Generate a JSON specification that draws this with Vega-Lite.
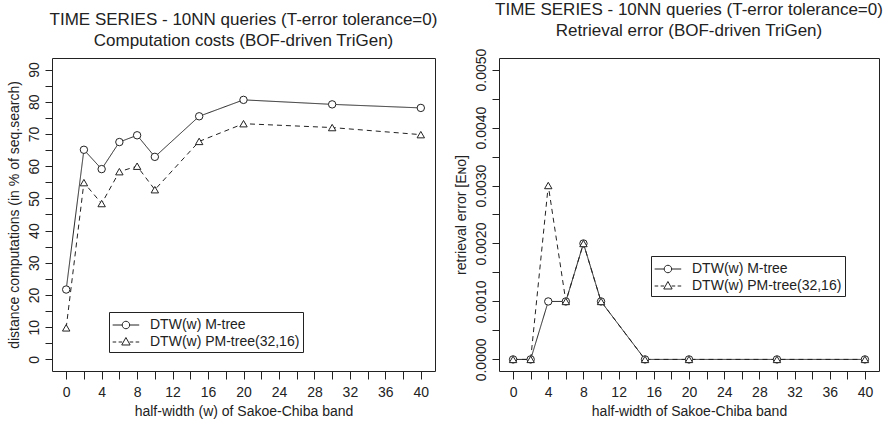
{
  "$schema": "https://vega.github.io/schema/vega-lite/v6.json",
  "background": "white",
  "padding": {"left": 6, "top": 0, "right": 2, "bottom": 2},
  "bounds": "flush",
  "spacing": 64,
  "datasets": {
    "costs": [
      {"w": 0, "series": "DTW(w) M-tree", "value": 21.7},
      {"w": 2, "series": "DTW(w) M-tree", "value": 65.1},
      {"w": 4, "series": "DTW(w) M-tree", "value": 59.1},
      {"w": 6, "series": "DTW(w) M-tree", "value": 67.5},
      {"w": 8, "series": "DTW(w) M-tree", "value": 69.6},
      {"w": 10, "series": "DTW(w) M-tree", "value": 62.9},
      {"w": 15, "series": "DTW(w) M-tree", "value": 75.5},
      {"w": 20, "series": "DTW(w) M-tree", "value": 80.6},
      {"w": 30, "series": "DTW(w) M-tree", "value": 79.2},
      {"w": 40, "series": "DTW(w) M-tree", "value": 78.1},
      {"w": 0, "series": "DTW(w) PM-tree(32,16)", "value": 9.8},
      {"w": 2, "series": "DTW(w) PM-tree(32,16)", "value": 54.9},
      {"w": 4, "series": "DTW(w) PM-tree(32,16)", "value": 48.4},
      {"w": 6, "series": "DTW(w) PM-tree(32,16)", "value": 58.3},
      {"w": 8, "series": "DTW(w) PM-tree(32,16)", "value": 60.0},
      {"w": 10, "series": "DTW(w) PM-tree(32,16)", "value": 52.7},
      {"w": 15, "series": "DTW(w) PM-tree(32,16)", "value": 67.7},
      {"w": 20, "series": "DTW(w) PM-tree(32,16)", "value": 73.2},
      {"w": 30, "series": "DTW(w) PM-tree(32,16)", "value": 72.0},
      {"w": 40, "series": "DTW(w) PM-tree(32,16)", "value": 69.8}
    ],
    "errors": [
      {"w": 0, "series": "DTW(w) M-tree", "value": 0},
      {"w": 2, "series": "DTW(w) M-tree", "value": 0},
      {"w": 4, "series": "DTW(w) M-tree", "value": 0.001},
      {"w": 6, "series": "DTW(w) M-tree", "value": 0.001},
      {"w": 8, "series": "DTW(w) M-tree", "value": 0.002},
      {"w": 10, "series": "DTW(w) M-tree", "value": 0.001},
      {"w": 15, "series": "DTW(w) M-tree", "value": 0},
      {"w": 20, "series": "DTW(w) M-tree", "value": 0},
      {"w": 30, "series": "DTW(w) M-tree", "value": 0},
      {"w": 40, "series": "DTW(w) M-tree", "value": 0},
      {"w": 0, "series": "DTW(w) PM-tree(32,16)", "value": 0},
      {"w": 2, "series": "DTW(w) PM-tree(32,16)", "value": 0},
      {"w": 4, "series": "DTW(w) PM-tree(32,16)", "value": 0.003},
      {"w": 6, "series": "DTW(w) PM-tree(32,16)", "value": 0.001},
      {"w": 8, "series": "DTW(w) PM-tree(32,16)", "value": 0.002},
      {"w": 10, "series": "DTW(w) PM-tree(32,16)", "value": 0.001},
      {"w": 15, "series": "DTW(w) PM-tree(32,16)", "value": 0},
      {"w": 20, "series": "DTW(w) PM-tree(32,16)", "value": 0},
      {"w": 30, "series": "DTW(w) PM-tree(32,16)", "value": 0},
      {"w": 40, "series": "DTW(w) PM-tree(32,16)", "value": 0}
    ]
  },
  "config": {
    "font": "Liberation Sans",
    "view": {"stroke": "#222", "strokeWidth": 1},
    "axis": {
      "grid": false, "domain": false, "tickColor": "#222", "tickSize": 7, "tickWidth": 1,
      "labelFont": "Liberation Sans", "labelFontSize": 14, "labelColor": "#222",
      "titleFont": "Liberation Sans", "titleFontSize": 14, "titleFontWeight": "normal", "titleColor": "#222",
      "labelOverlap": false, "labelFlush": false, "labelPadding": 4, "titlePadding": 4
    },
    "axisX": {"tickSize": 8, "labelPadding": 6, "titlePadding": 5},
    "axisY": {"labelAngle": -90, "labelAlign": "center", "labelBaseline": "bottom", "titlePadding": 6},
    "title": {"font": "Liberation Sans", "fontSize": 17, "fontWeight": "normal", "color": "#222", "anchor": "middle", "lineHeight": 21, "offset": 8},
    "legend": {
      "strokeColor": "#222", "fillColor": "white", "padding": 3, "cornerRadius": 0,
      "labelFont": "Liberation Sans", "labelFontSize": 14, "labelColor": "#222", "labelOffset": 18,
      "symbolStrokeColor": "#222", "symbolFillColor": "transparent", "symbolStrokeWidth": 1,
      "symbolOpacity": 1, "symbolSize": 350, "rowPadding": 0
    }
  },
  "hconcat": [
    {
      "width": 383, "height": 313,
      "title": {"text": ["TIME SERIES - 10NN queries (T-error tolerance=0)", "Computation costs (BOF-driven TriGen)"]},
      "data": {"name": "costs"},
      "encoding": {
        "x": {"field": "w", "type": "quantitative",
          "scale": {"domain": [-1.6, 41.6], "nice": false, "zero": false},
          "axis": {"values": [0,2,4,6,8,10,12,14,16,18,20,22,24,26,28,30,32,34,36,38,40],
            "labelExpr": "datum.value % 4 === 0 ? datum.label : ''",
            "title": "half-width (w) of Sakoe-Chiba band"}},
        "y": {"field": "value", "type": "quantitative",
          "scale": {"domain": [-3.6, 93.6], "nice": false, "zero": false},
          "axis": {"values": [0,5,10,15,20,25,30,35,40,45,50,55,60,65,70,75,80,85,90],
            "labelExpr": "datum.value % 10 === 0 ? datum.label : ''",
            "title": "distance computations (in % of seq.search)"}}
      },
      "layer": [
        {"mark": {"type": "line", "color": "#222", "strokeWidth": 1},
         "encoding": {"detail": {"field": "series"},
           "strokeDash": {"field": "series", "type": "nominal",
             "scale": {"domain": ["DTW(w) M-tree", "DTW(w) PM-tree(32,16)"], "range": [[1,0],[5,4]]}, "legend": null}}},
        {"mark": {"type": "point", "fill": "white", "stroke": "#222", "strokeWidth": 1, "size": 55, "opacity": 1},
         "encoding": {"shape": {"field": "series", "type": "nominal",
           "scale": {"domain": ["DTW(w) M-tree", "DTW(w) PM-tree(32,16)"], "range": ["circle", "triangle-up"]}, "legend": null}}},
        {"mark": {"type": "point", "color": "#222", "opacity": 0, "size": 350},
         "encoding": {"shape": {"field": "series", "type": "nominal",
           "scale": {"domain": ["DTW(w) M-tree", "DTW(w) PM-tree(32,16)"],
             "range": ["M-1,0H0.02M0.82,0H1.84M0.02,0A0.4,0.4,0,1,1,0.82,0A0.4,0.4,0,1,1,0.02,0",
                       "M-1,0H-0.62M-0.36,0H0.02M0.82,0H1.2M1.46,0H1.84M0.42,-0.48L0.87,0.32L-0.03,0.32Z"]},
           "legend": {"title": null, "orient": "none", "legendX": 57, "legendY": 254}}}}
      ],
      "resolve": {"scale": {"shape": "independent"}, "legend": {"shape": "independent"}}
    },
    {
      "width": 380, "height": 313,
      "title": {"text": ["TIME SERIES - 10NN queries (T-error tolerance=0)", "Retrieval error (BOF-driven TriGen)"]},
      "data": {"name": "errors"},
      "encoding": {
        "x": {"field": "w", "type": "quantitative",
          "scale": {"domain": [-1.6, 41.6], "nice": false, "zero": false},
          "axis": {"values": [0,2,4,6,8,10,12,14,16,18,20,22,24,26,28,30,32,34,36,38,40],
            "labelExpr": "datum.value % 4 === 0 ? datum.label : ''",
            "title": "half-width of Sakoe-Chiba band"}},
        "y": {"field": "value", "type": "quantitative",
          "scale": {"domain": [-0.0002, 0.0052], "nice": false, "zero": false},
          "axis": {"values": [0,0.0005,0.001,0.0015,0.002,0.0025,0.003,0.0035,0.004,0.0045,0.005],
            "labelExpr": "round(datum.value * 10000) % 10 === 0 ? format(datum.value, '.4f') : ''",
            "title": "retrieval error [Eɴᴏ]"}}
      },
      "layer": [
        {"mark": {"type": "line", "color": "#222", "strokeWidth": 1},
         "encoding": {"detail": {"field": "series"},
           "strokeDash": {"field": "series", "type": "nominal",
             "scale": {"domain": ["DTW(w) M-tree", "DTW(w) PM-tree(32,16)"], "range": [[1,0],[5,4]]}, "legend": null}}},
        {"mark": {"type": "point", "fill": "white", "stroke": "#222", "strokeWidth": 1, "size": 55, "opacity": 1},
         "encoding": {"shape": {"field": "series", "type": "nominal",
           "scale": {"domain": ["DTW(w) M-tree", "DTW(w) PM-tree(32,16)"], "range": ["circle", "triangle-up"]}, "legend": null}}},
        {"mark": {"type": "point", "color": "#222", "opacity": 0, "size": 350},
         "encoding": {"shape": {"field": "series", "type": "nominal",
           "scale": {"domain": ["DTW(w) M-tree", "DTW(w) PM-tree(32,16)"],
             "range": ["M-1,0H0.02M0.82,0H1.84M0.02,0A0.4,0.4,0,1,1,0.82,0A0.4,0.4,0,1,1,0.02,0",
                       "M-1,0H-0.62M-0.36,0H0.02M0.82,0H1.2M1.46,0H1.84M0.42,-0.48L0.87,0.32L-0.03,0.32Z"]},
           "legend": {"title": null, "orient": "none", "legendX": 152, "legendY": 198}}}}
      ],
      "resolve": {"scale": {"shape": "independent"}, "legend": {"shape": "independent"}}
    }
  ]
}
